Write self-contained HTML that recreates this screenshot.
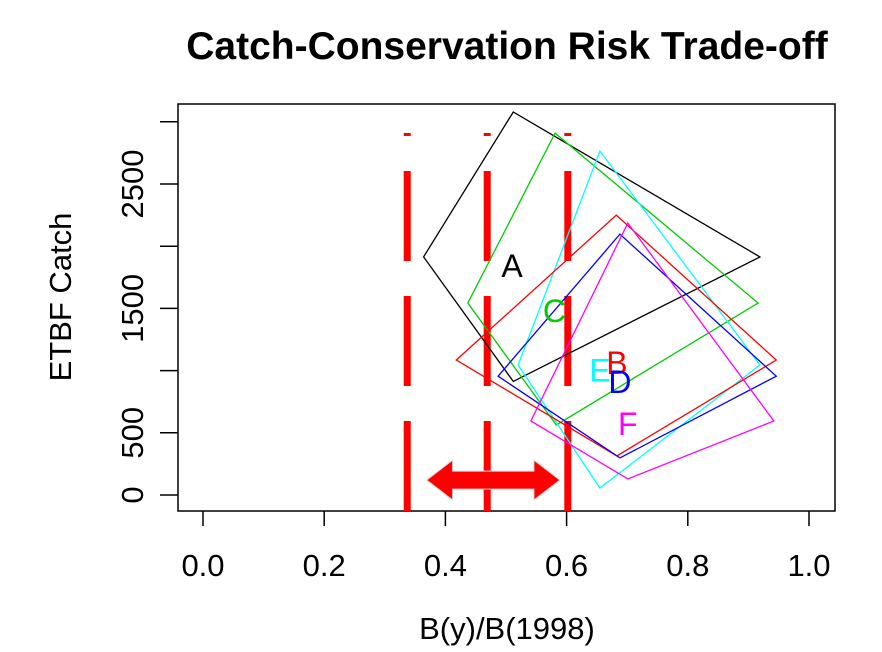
<!DOCTYPE html>
<html><head><meta charset="utf-8"><style>
body{margin:0;background:#fff}
svg{display:block;font-family:"Liberation Sans",sans-serif}
</style></head><body>
<svg id="chart" width="882" height="652" viewBox="0 0 882 652">
<text x="507" y="59" text-anchor="middle" font-size="39" font-weight="bold">Catch-Conservation Risk Trade-off</text>
<rect x="178" y="104" width="657" height="407" fill="none" stroke="#000" stroke-width="1.5"/>
<g id="xaxis"></g>
<g id="yaxis"></g>
<text x="507" y="639" text-anchor="middle" font-size="31">B(y)/B(1998)</text>
<text transform="translate(71,297) rotate(-90)" text-anchor="middle" font-size="31">ETBF Catch</text>
<g id="refs"></g>
<g id="polys"></g>
<g id="arrow"></g>
</svg>
<script>
const xTicks=[0,0.2,0.4,0.6,0.8,1.0];
const xTickLabels=["0.0","0.2","0.4","0.6","0.8","1.0"];
const yTicks=[0,500,1000,1500,2000,2500,3000];
const yTickLabels=["0","500","","1500","","2500",""];
const scenarioNames=["A","C","E","B","D","F"];
const scenarioColors=["#000000","#00cc00","#00ffff","#ff0000","#0000ff","#ff00ff"];
const scenarioX=[[0.364,0.512,0.919,0.512],[0.437,0.581,0.916,0.583],[0.520,0.655,0.919,0.655],[0.418,0.682,0.946,0.683],[0.487,0.688,0.946,0.688],[0.541,0.701,0.942,0.701]];
const scenarioY=[[1914,3079,1914,913],[1543,2909,1543,563],[1045,2765,1045,56],[1085,2250,1085,314],[955,2097,955,298],[595,2186,595,129]];
const labelX=[0.51,0.58,0.655,0.683,0.688,0.701];
const labelY=[1840,1480,1000,1060,910,570];
const refLines=[0.337,0.469,0.602];
const arrowRange=[0.369,0.589];
const arrowY=120;
const NS="http://www.w3.org/2000/svg";
const sx=v=>203+v*606, sy=v=>495-v*0.1244;
function mk(tag,attrs,parent,txt){const e=document.createElementNS(NS,tag);for(const k in attrs)e.setAttribute(k,attrs[k]);if(txt!==undefined)e.textContent=txt;parent.appendChild(e);return e;}
const xg=document.getElementById('xaxis');
xTicks.forEach((t,i)=>{
 const l=mk('line',{x1:sx(t),x2:sx(t),y1:511,y2:526,stroke:'#000','stroke-width':1.5},xg);
 
 
 const tx=mk('text',{x:sx(t),y:576,'text-anchor':'middle','font-size':31},xg,xTickLabels[i]);
 
 
});
const yg=document.getElementById('yaxis');
yTicks.forEach((t,i)=>{
 const l=mk('line',{x1:160,x2:178,y1:sy(t),y2:sy(t),stroke:'#000','stroke-width':1.5},yg);
 
 
 if(yTickLabels[i]){
  const tx=mk('text',{transform:`translate(143,${sy(t)}) rotate(-90)`,'text-anchor':'middle','font-size':31},yg,yTickLabels[i]);
  
  
 }
});
const rg=document.getElementById('refs');
refLines.forEach(v=>{
 const l=mk('line',{x1:sx(v),x2:sx(v),y1:511,y2:133,stroke:'#ff0000','stroke-width':7,'stroke-dasharray':'90 35'},rg);
 
 
});
const pg=document.getElementById('polys');
scenarioNames.forEach((n,i)=>{
 const pts=scenarioX[i].map((x,j)=>sx(x)+','+sy(scenarioY[i][j])).join(' ');
 const p=mk('polygon',{points:pts,fill:'none',stroke:scenarioColors[i],'stroke-width':1.3},pg);
 
 
});
scenarioNames.forEach((n,i)=>{
 const t=mk('text',{x:sx(labelX[i]),y:sy(labelY[i])+11,'text-anchor':'middle','font-size':32,fill:scenarioColors[i]},pg,n);
 
 
});
const ag=document.getElementById('arrow');
const ax1=sx(arrowRange[0]),ax2=sx(arrowRange[1]),ay=sy(arrowY);
const hl=26,bh=9,hh=20;
const ap=mk('polygon',{points:[[ax1,ay],[ax1+hl,ay-hh],[ax1+hl,ay-bh],[ax2-hl,ay-bh],[ax2-hl,ay-hh],[ax2,ay],[ax2-hl,ay+hh],[ax2-hl,ay+bh],[ax1+hl,ay+bh],[ax1+hl,ay+hh]].map(p=>p.join(',')).join(' '),fill:'#ff0000',stroke:'#dddddd','stroke-width':1},ag);


</script>
</body></html>
